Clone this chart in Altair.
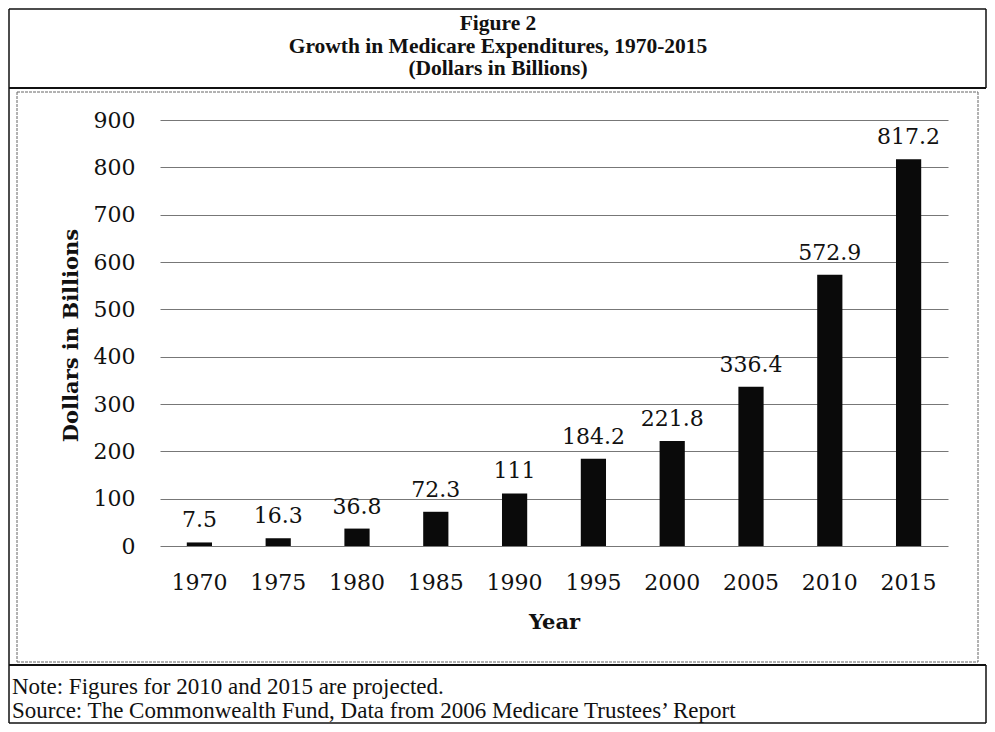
import altair as alt
import pandas as pd

years = ["1970", "1975", "1980", "1985", "1990", "1995", "2000", "2005", "2010", "2015"]
values = [7.5, 16.3, 36.8, 72.3, 111, 184.2, 221.8, 336.4, 572.9, 817.2]
labels = ["7.5", "16.3", "36.8", "72.3", "111", "184.2", "221.8", "336.4", "572.9", "817.2"]

title_lines = ["Figure 2", "Growth in Medicare Expenditures, 1970-2015", "(Dollars in Billions)"]
note_text = "Note: Figures for 2010 and 2015 are projected."
source_text = "Source: The Commonwealth Fund, Data from 2006 Medicare Trustees\u2019 Report"

df = pd.DataFrame({"Year": years, "Value": values, "Label": labels})
one = pd.DataFrame({"a": [0]})

W, H = 788, 426
SERIF = "DejaVu Serif"
TIMES = "Liberation Serif"

x_enc = alt.X("Year:N", sort=years, title="Year",
              scale=alt.Scale(paddingInner=0.68, paddingOuter=0.34),
              axis=alt.Axis(labelAngle=0, ticks=False, domain=False, labelPadding=36,
                            labelBaseline="middle", labelFont=SERIF, labelFontSize=22,
                            labelColor="#111", titleFont=SERIF, titleFontSize=21,
                            titleFontWeight="bold", titleColor="#111",
                            titleX=W / 2, titleY=76, titleBaseline="middle"))
y_enc = alt.Y("Value:Q", title="Dollars in Billions",
              scale=alt.Scale(domain=[0, 900], nice=False),
              axis=alt.Axis(values=list(range(0, 901, 100)), ticks=False, domain=False,
                            labelPadding=25, labelFont=SERIF, labelFontSize=22,
                            labelColor="#111", gridColor="#777", gridWidth=1,
                            titleFont=SERIF, titleFontSize=21, titleFontWeight="bold",
                            titleColor="#111", titleAngle=270, titleX=-89, titleY=H / 2 + 2,
                            titleAlign="center", titleBaseline="middle"))

bars = alt.Chart(df).mark_bar(color="#0a0a0a").encode(x=x_enc, y=y_enc)
text = alt.Chart(df).mark_text(font=SERIF, fontSize=22, color="#111", baseline="bottom", dy=-10).encode(
    x=alt.X("Year:N", sort=years), y="Value:Q", text="Label:N")


def hline(x1, x2, y, w=1.0, c="#111", dash=None):
    kw = {"strokeDash": dash} if dash else {}
    return alt.Chart(one).mark_rule(color=c, strokeWidth=w, **kw).encode(
        x=alt.value(x1), x2=alt.value(x2), y=alt.value(y))


def vline(x, y1, y2, w=1.0, c="#111", dash=None):
    kw = {"strokeDash": dash} if dash else {}
    return alt.Chart(one).mark_rule(color=c, strokeWidth=w, **kw).encode(
        x=alt.value(x), y=alt.value(y1), y2=alt.value(y2))


def txt(s, x, y, size, font, weight="normal", align="center"):
    return alt.Chart(one).mark_text(text=s, font=font, fontSize=size, fontWeight=weight,
                                    align=align, baseline="middle", color="#111").encode(
        x=alt.value(x), y=alt.value(y))


L, R, T, B = -151, 826, -111, 603
decor = [
    hline(L, R, T, 1.5), hline(L, R, B, 1.5), vline(L, T, B, 1.5), vline(R, T, -32, 1.5),
    hline(L, R, -32, 2), hline(L, R, 545, 2),
    vline(-143, -28, 542, 1, "#666", [3, 1]), vline(818, -28, 542, 1, "#666", [3, 1]),
    hline(-143, 818, -28, 1, "#666", [3, 1]), hline(-143, 818, 542, 1, "#666", [3, 1]),
    vline(R, 545, B, 1.5),
    txt(title_lines[0], 338, -96, 21.5, TIMES, "bold"),
    txt(title_lines[1], 338, -73.5, 21.5, TIMES, "bold"),
    txt(title_lines[2], 338, -51, 21.5, TIMES, "bold"),
    txt(note_text, -148, 567, 23, TIMES, align="left"),
    txt(source_text, -148, 591, 23, TIMES, align="left"),
]

chart = alt.layer(bars, text, *decor).properties(
    width=W, height=H,
    padding={"left": 152, "top": 112, "right": 39, "bottom": 178},
    autosize=alt.AutoSizeParams(type="none"),
).configure_view(stroke=None)

chart.save("out.html", embed_options={"renderer": "svg", "actions": False})
